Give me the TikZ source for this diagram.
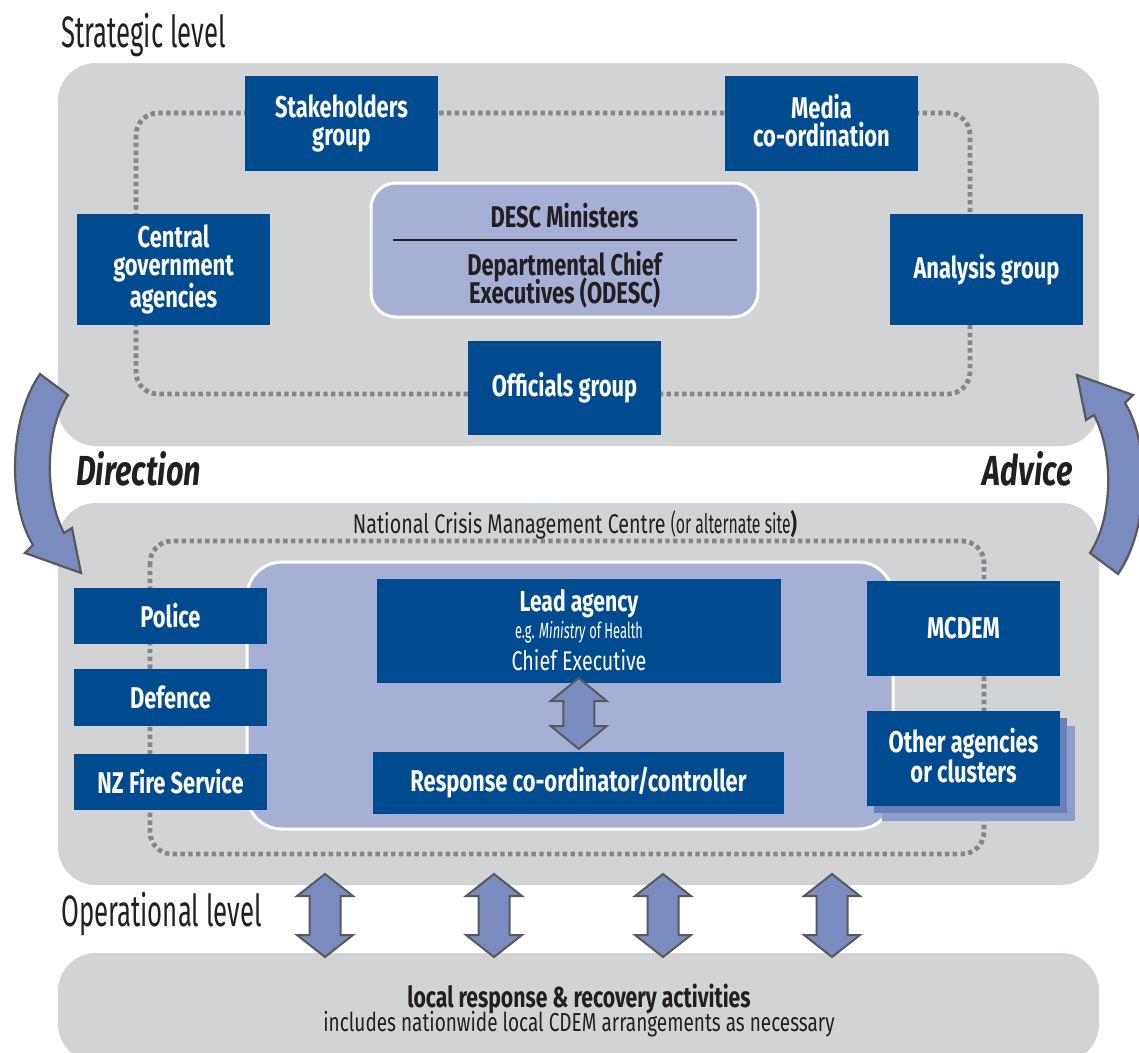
\documentclass[tikz,border=0pt]{standalone}
\usepackage{fontspec}
\setmainfont{Fira Sans}[FakeStretch=0.73]
\newfontfamily\lightf{Fira Sans}[FakeStretch=0.585]
\usetikzlibrary{calc}

\definecolor{panelgray}{RGB}{209,211,212}
\definecolor{dotgray}{RGB}{132,134,137}
\definecolor{boxblue}{RGB}{0,74,143}
\definecolor{lav}{RGB}{166,176,212}
\definecolor{arrowblue}{RGB}{122,139,191}
\definecolor{arrowedge}{RGB}{88,89,91}
\definecolor{inkblack}{RGB}{35,31,32}
\definecolor{shadowdark}{RGB}{106,127,182}
\definecolor{shadowlight}{RGB}{140,156,204}

\tikzset{
  pics/twoway/.style 2 args={code={
    \draw[bigarrow, line width=2pt]
      (0,-#1) -- (28,{-#1+#2}) -- (15.5,{-#1+#2}) -- (15.5,{#1-#2}) -- (28,{#1-#2})
      -- (0,#1) -- (-28,{#1-#2}) -- (-15.5,{#1-#2}) -- (-15.5,{-#1+#2}) -- (-28,{-#1+#2}) -- cycle;
  }}
}

\begin{document}
\begin{tikzpicture}[x=1pt,y=-1pt,
  panel/.style={fill=panelgray, rounded corners=38pt, inner sep=0pt},
  dotloop/.style={draw=dotgray, line width=4.8pt, dash pattern=on 4.4pt off 3.4pt, rounded corners=22pt},
  bluebox/.style={fill=boxblue, text=white, inner sep=0pt, align=center,
    font=\fontsize{30}{28}\selectfont\bfseries},
  lavpanel/.style={fill=lav, draw=white, line width=3pt, inner sep=0pt},
  bigarrow/.style={fill=arrowblue, draw=arrowedge, line width=2.2pt, line join=miter},
  levellabel/.style={text=inkblack, inner sep=0pt, font=\lightf\fontsize{44}{44}\selectfont},
  flowlabel/.style={text=inkblack, inner sep=0pt, font=\fontsize{42}{42}\selectfont\bfseries\itshape},
  darkbold/.style={text=inkblack, inner sep=0pt, font=\fontsize{30}{28}\selectfont\bfseries},
  whitetext/.style={text=white, inner sep=0pt},
  inktext/.style={text=inkblack, inner sep=0pt},
]
\useasboundingbox (0,0) rectangle (1139,1052);
\clip (0,0) rectangle (1139,1052);

% ---- level panels ----
\node[panel, minimum width=1041, minimum height=383] (strategic) at (578.5,254.5) {};
\node[panel, minimum width=1041, minimum height=382] (ncmc) at (578.5,694) {};
\node[panel, minimum width=1041, minimum height=109] (local) at (578.5,1007.5) {};

% ---- dotted links ----
\draw[dotloop] (136,113) rectangle (970,394);
\draw[dotloop] (150,541) rectangle (984,854);

% ---- strategic level ----
\node[lavpanel, rounded corners=25pt, minimum width=387, minimum height=134] (odesc) at (564.5,250) {};
\path (odesc.west |- 0,240) ++(23,0) coordinate (divl)
      (odesc.east |- 0,240) ++(-23,0) coordinate (divr);
\draw[inkblack, line width=2.5pt] (divl) -- (divr);
\node[darkbold, anchor=base] (descmin) at (564.5,227) {DESC Ministers};
\node[darkbold, anchor=base] (deptchief) at (564.5,275) {Departmental Chief};
\node[darkbold, anchor=base] (deptexec) at (564.5,303) {Executives (ODESC)};

\node[bluebox, minimum width=193, minimum height=95] (stake) at (341.5,123.5) {Stakeholders\\group};
\node[bluebox, minimum width=193, minimum height=95] (media) at (821.5,123.5) {Media\\co-ordination\vphantom{g}};
\node[bluebox, minimum width=193, minimum height=111] (central) at (173.5,269.5) {Central\\government\\agencies};
\node[bluebox, minimum width=193, minimum height=111] (analysis) at (986.5,269.5) {Analysis group};
\node[bluebox, minimum width=193, minimum height=94] (officials) at (564.5,388) {Officials group};

% ---- operational centre ----
\node[lavpanel, rounded corners=35pt, minimum width=646, minimum height=267] (leadgroup) at (570,695.5) {};

\node[bluebox, minimum width=193, minimum height=56] (police) at (170.5,616) {Police};
\node[bluebox, minimum width=193, minimum height=57] (defence) at (170.5,697.5) {Defence};
\node[bluebox, minimum width=193, minimum height=56] (fire) at (170.5,782) {NZ Fire Service};

\node[bluebox, minimum width=404, minimum height=104] (lead) at (579,631) {};
\node[whitetext, anchor=base, font=\fontsize{29}{29}\selectfont\bfseries] (leadname) at (579,611) {Lead agency};
\node[whitetext, anchor=base, font=\lightf\fontsize{22}{22}\selectfont] (leadeg) at (579,638) {e.g. \textit{Ministry} of Health};
\node[whitetext, anchor=base, font=\fontsize{27}{27}\selectfont] (leadce) at (579,670) {Chief Executive};

\node[bluebox, minimum width=411, minimum height=62] (resp) at (578.5,783) {Response co-ordinator/controller};

\node[fill=shadowlight, minimum width=193, minimum height=95, inner sep=0pt] (otherback) at (978.5,773.5) {};
\node[fill=shadowdark, minimum width=193, minimum height=95, inner sep=0pt] (othermid) at (970.5,765.5) {};
\node[bluebox, minimum width=193, minimum height=95] (mcdem) at (963.5,628.5) {MCDEM};
\node[bluebox, minimum width=193, minimum height=95] (other) at (963.5,758.5) {Other agencies\\or clusters\vphantom{g}};

\pic at ($(lead.south)!0.5!(resp.north)+(0,-4)$) {twoway={35.5}{23}};

% ---- links between the centre and local activity ----
\coordinate (gapmid) at ($(ncmc.south)!0.5!(local.north)$);
\foreach \ax in {325,494,663,832}
  \pic at ([shift={(\ax-578.5,-3.5)}]gapmid) {twoway={41.5}{22}};

% ---- direction and advice ----
\draw[bigarrow] (40,374) -- (68,395) .. controls (45,430) and (44,495) .. (64,533)
  -- (72,528) -- (81,573) -- (25,553) -- (33,545) .. controls (8,505) and (8,420) .. (40,374) -- cycle;
\draw[bigarrow, rotate around={180:(579,474)}] (40,374) -- (68,395) .. controls (45,430) and (44,495) .. (64,533)
  -- (72,528) -- (81,573) -- (25,553) -- (33,545) .. controls (8,505) and (8,420) .. (40,374) -- cycle;

% ---- labels ----
\node[levellabel, anchor=base west] (stratlabel) at (61,47) {Strategic level};
\node[levellabel, anchor=base west] (operlabel) at (61,926) {Operational level};
\node[flowlabel, anchor=base west] (dirlabel) at (76,485) {Direction};
\node[flowlabel, anchor=base east] (advlabel) at (1073,485) {Advice};

\node[inktext, anchor=base, font=\fontsize{27}{27}\selectfont] (ncmctitle) at (575,533)
  {National Crisis Management Centre {\lightf(or alternate site}\textbf{)}};

\node[inktext, anchor=base, font=\fontsize{29}{29}\selectfont\bfseries] (localtitle) at (579,1007)
  {local response \& recovery activities};
\node[inktext, anchor=base, font=\fontsize{26}{26}\selectfont] (localnote) at (579,1031)
  {includes nationwide local CDEM arrangements as necessary};
\end{tikzpicture}
\end{document}
